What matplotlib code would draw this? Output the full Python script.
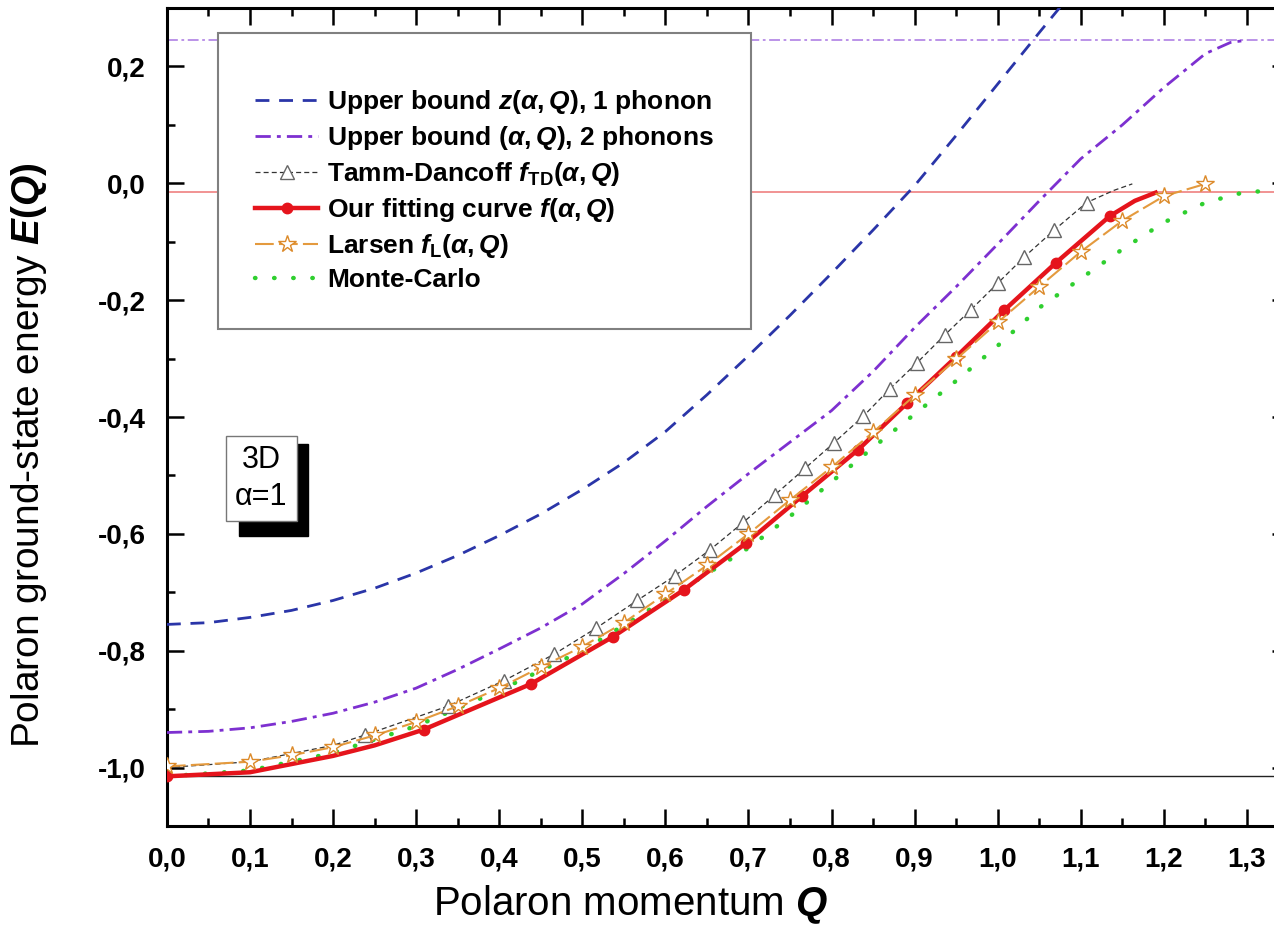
import matplotlib.pyplot as plt
from matplotlib.patches import Rectangle
from matplotlib.ticker import FuncFormatter, MultipleLocator

plt.rcParams['font.family'] = ['Liberation Sans', 'DejaVu Sans']
plt.rcParams['mathtext.fontset'] = 'custom'
plt.rcParams['mathtext.it'] = 'Liberation Sans:italic:bold'
plt.rcParams['mathtext.rm'] = 'Liberation Sans:bold'
plt.rcParams['mathtext.bf'] = 'Liberation Sans:bold'

# upper bound, 1 phonon
z1_q = [0.0, 0.05, 0.1, 0.15, 0.2, 0.25, 0.3, 0.35, 0.4, 0.45, 0.5, 0.55, 0.6, 0.65, 0.7, 0.75,
        0.8, 0.85, 0.9, 0.95, 1.0, 1.05, 1.08]
z1_e = [-0.755, -0.752, -0.743, -0.731, -0.714, -0.693, -0.667, -0.637, -0.603, -0.566, -0.524,
        -0.478, -0.425, -0.362, -0.295, -0.226, -0.154, -0.08, -0.004, 0.082, 0.17, 0.258, 0.31]

# upper bound, 2 phonons
z2_q = [0.0, 0.05, 0.1, 0.15, 0.2, 0.25, 0.3, 0.35, 0.4, 0.45, 0.5, 0.55, 0.6, 0.65, 0.7, 0.75,
        0.8, 0.85, 0.9, 0.95, 1.0, 1.05, 1.1, 1.15, 1.2, 1.25, 1.28, 1.3]
z2_e = [-0.94, -0.938, -0.932, -0.921, -0.907, -0.888, -0.864, -0.832, -0.797, -0.761, -0.72,
        -0.668, -0.612, -0.553, -0.497, -0.443, -0.389, -0.322, -0.247, -0.177, -0.104, -0.03,
        0.042, 0.10, 0.164, 0.222, 0.241, 0.245]

# Tamm-Dancoff
td_q = [0.0, 0.1, 0.2, 0.239, 0.338, 0.406, 0.466, 0.517, 0.566, 0.611, 0.654, 0.694, 0.732, 0.768,
        0.803, 0.838, 0.870, 0.903, 0.936, 0.968, 1.0, 1.032, 1.068, 1.107, 1.14, 1.162]
td_e = [-1.0, -0.99, -0.962, -0.944, -0.895, -0.851, -0.806, -0.761, -0.714, -0.672, -0.627, -0.580,
        -0.533, -0.488, -0.444, -0.399, -0.352, -0.307, -0.260, -0.216, -0.171, -0.126, -0.080,
        -0.033, -0.012, -0.001]
td_marks = list(range(3, 24))

# our fitting curve
fit_q = [0.0, 0.1, 0.2, 0.25, 0.309, 0.438, 0.537, 0.622, 0.697, 0.764, 0.832, 0.891, 0.950, 1.008,
         1.070, 1.135, 1.165, 1.19]
fit_e = [-1.015, -1.008, -0.98, -0.962, -0.935, -0.857, -0.776, -0.696, -0.616, -0.536, -0.456,
         -0.376, -0.297, -0.217, -0.136, -0.056, -0.03, -0.016]
fit_marks = [0] + list(range(4, 16))

# Larsen
lar_q = [0.0, 0.1, 0.15, 0.2, 0.25, 0.3, 0.35, 0.4, 0.45, 0.5, 0.55, 0.6, 0.65, 0.7, 0.75, 0.8, 0.85,
         0.9, 0.95, 1.0, 1.05, 1.1, 1.15, 1.2, 1.25]
lar_e = [-0.998, -0.99, -0.979, -0.965, -0.945, -0.922, -0.895, -0.864, -0.828, -0.793, -0.752,
         -0.703, -0.654, -0.600, -0.542, -0.486, -0.426, -0.363, -0.301, -0.238, -0.177, -0.117,
         -0.064, -0.022, -0.001]

# Monte-Carlo
mc_q = [0.0, 0.1, 0.2, 0.3, 0.4, 0.5, 0.6, 0.7, 0.75, 0.8, 0.85, 0.9, 0.95, 1.0, 1.05, 1.1, 1.15,
        1.2, 1.25, 1.3, 1.35]
mc_e = [-1.015, -1.005, -0.975, -0.929, -0.868, -0.800, -0.713, -0.624, -0.57, -0.511, -0.452,
        -0.395, -0.338, -0.278, -0.213, -0.163, -0.113, -0.067, -0.033, -0.014, -0.014]

# reference levels
level_top = 0.245
level_zero = -0.015
level_ground = -1.015

x_ticks = [0.0, 0.1, 0.2, 0.3, 0.4, 0.5, 0.6, 0.7, 0.8, 0.9, 1.0, 1.1, 1.2, 1.3]
y_ticks = [-1.0, -0.8, -0.6, -0.4, -0.2, 0.0, 0.2]

fig = plt.figure(figsize=(12.74, 9.44), dpi=100)
ax = fig.add_axes([0.131, 0.125, 0.8804, 0.8665])

ax.axhline(level_top, color='#b58ae6', lw=1.3, dashes=(6, 2, 1.5, 2))
ax.axhline(level_zero, color='#f08a8a', lw=1.3)
ax.axhline(level_ground, color='#222222', lw=1.0)

ax.plot(mc_q, mc_e, color='#2fcf2f', lw=3.2, linestyle=(0, (0.1, 4.2)),
        dash_capstyle='round', label='Monte-Carlo', zorder=2)
ax.plot(z1_q, z1_e, color='#2a35a8', lw=2.0, dashes=(5, 3.5),
        label=r'Upper bound $z(\alpha,Q)$, 1 phonon', zorder=3)
ax.plot(z2_q, z2_e, color='#7d30d0', lw=2.0, dashes=(5.5, 2.2, 1.4, 2.2),
        label=r'Upper bound $(\alpha,Q)$, 2 phonons', zorder=3)
ax.plot(td_q, td_e, color='#333333', lw=0.9, dashes=(4, 2.5), marker='^', markevery=td_marks,
        ms=10, mfc='white', mec='#666666', mew=1.0,
        label=r'Tamm-Dancoff $f_{\mathrm{TD}}(\alpha,Q)$', zorder=4)
ax.plot(fit_q, fit_e, color='#e5141c', lw=3.2, marker='o', markevery=fit_marks, ms=7.5,
        label=r'Our fitting curve $f(\alpha,Q)$', zorder=5)
ax.plot(lar_q, lar_e, color='#e49a3e', lw=1.5, dashes=(9, 2.5), marker='*', ms=13,
        mfc='white', mec='#dc8a2a', mew=1.0,
        label=r'Larsen $f_{\mathrm{L}}(\alpha,Q)$', zorder=6)

ax.set_xlim(0, 1.35)
ax.set_ylim(-1.1, 0.3)
ax.set_xticks(x_ticks)
ax.set_yticks(y_ticks)
ax.xaxis.set_minor_locator(MultipleLocator(0.05))
ax.yaxis.set_minor_locator(MultipleLocator(0.1))
comma = FuncFormatter(lambda v, p: f'{v:.1f}'.replace('.', ','))
ax.xaxis.set_major_formatter(comma)
ax.yaxis.set_major_formatter(comma)
ax.tick_params(which='both', direction='in', top=True, right=True, width=1.8)
ax.tick_params(which='major', length=12, labelsize=20, pad=15)
ax.tick_params(which='minor', length=6)
for lab in ax.get_xticklabels() + ax.get_yticklabels():
    lab.set_fontweight('bold')
for sp in ax.spines.values():
    sp.set_linewidth(2.2)

ax.set_xlabel('Polaron momentum $Q$', fontsize=29)
ax.set_ylabel('Polaron ground-state energy $E(Q)$', fontsize=28)
ax.xaxis.set_label_coords(0.413, -0.07)
ax.yaxis.set_label_coords(-0.105, 0.453)

handles, labels = ax.get_legend_handles_labels()
order = [1, 2, 3, 4, 5, 0]
leg = ax.legend([handles[i] for i in order], [labels[i] for i in order],
                loc='upper left', bbox_to_anchor=(0.0455, 0.969), borderaxespad=0,
                prop={'weight': 'bold', 'size': 19}, title=' ', title_fontsize=8,
                fancybox=False, framealpha=1, edgecolor='#808080', borderpad=1.4,
                handlelength=2.4, handletextpad=0.35, labelspacing=0.3, numpoints=1)
leg.get_frame().set_linewidth(1.5)
leg.set_zorder(10)

# 3D / alpha box with its black shadow
ax.add_patch(Rectangle((0.0645, 0.355), 0.0615, 0.1125, transform=ax.transAxes,
                       facecolor='black', edgecolor='black', zorder=11))
ax.text(0.084, 0.425, '3D\nα=1', transform=ax.transAxes, fontsize=22, ha='center', va='center',
        linespacing=1.3, bbox=dict(boxstyle='square,pad=0.3', fc='white', ec='#777777', lw=1.0),
        zorder=12)

plt.savefig('out.png', dpi=100)
